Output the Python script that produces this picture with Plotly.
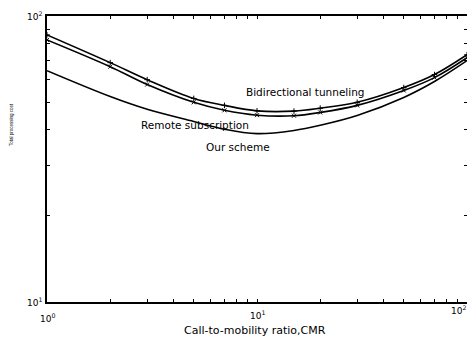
import plotly.graph_objects as go

cmr = [1, 2, 3, 5, 7, 10, 15, 20, 30, 50, 70, 100]
bidirectional = [85.9, 68.7, 59.9, 51.5, 48.7, 46.6, 46.5, 47.6, 49.9, 56.2, 62.4, 73.2]
remote = [82.5, 66.5, 57.6, 49.9, 46.8, 45.0, 44.8, 46.0, 48.7, 54.9, 60.9, 71.5]
ours = [64.4, 52.3, 47.2, 42.8, 40.2, 38.8, 39.8, 41.5, 44.9, 51.9, 59.0, 69.8]

series_names = ["Bidirectional tunneling", "Remote subscription", "Our scheme"]
x_tick_text = ["10<sup>0</sup>", "10<sup>1</sup>", "10<sup>2</sup>"]
y_tick_text = ["10<sup>1</sup>", "10<sup>2</sup>"]
x_title = "Call-to-mobility ratio,CMR"
y_title = "Total processing cost"

fnt = dict(family="DejaVu Sans, sans-serif", color="black")
fnt2 = dict(family="Liberation Sans, Arial, sans-serif", color="black")

fig = go.Figure()
fig.add_trace(go.Scatter(x=cmr, y=bidirectional, mode="lines+markers", name=series_names[0],
                         line=dict(color="black", width=1.6, shape="spline"),
                         marker=dict(symbol="cross-thin", size=4, line=dict(color="black", width=1))))
fig.add_trace(go.Scatter(x=cmr, y=remote, mode="lines+markers", name=series_names[1],
                         line=dict(color="black", width=1.6, shape="spline"),
                         marker=dict(symbol="x-thin", size=4, line=dict(color="black", width=1))))
fig.add_trace(go.Scatter(x=cmr, y=ours, mode="lines", name=series_names[2],
                         line=dict(color="black", width=1.6, shape="spline")))

# curve labels (data coordinates, log10 values)
fig.add_annotation(x=1.229, y=1.733, xref="x", yref="y", text=series_names[0], showarrow=False,
                   font=dict(size=10.5, **fnt))
fig.add_annotation(x=0.705, y=1.618, xref="x", yref="y", text=series_names[1], showarrow=False,
                   font=dict(size=10.5, **fnt))
fig.add_annotation(x=0.910, y=1.542, xref="x", yref="y", text=series_names[2], showarrow=False,
                   font=dict(size=10.5, **fnt))

# axis titles
fig.add_annotation(x=-0.085, y=0.62, xref="paper", yref="paper", text=y_title, showarrow=False,
                   textangle=-90, xanchor="center", yanchor="middle", font=dict(size=4.5, **fnt2))
fig.add_annotation(x=0.495, y=-0.101, xref="paper", yref="paper", text=x_title, showarrow=False,
                   xanchor="center", yanchor="middle", font=dict(size=11, **fnt))

# tick labels
fig.add_annotation(x=0, y=-0.028, xref="paper", yref="paper", text=x_tick_text[0], showarrow=False,
                   xanchor="center", yanchor="top", font=dict(size=9, **fnt))
fig.add_annotation(x=0.502, y=-0.017, xref="paper", yref="paper", text=x_tick_text[1], showarrow=False,
                   xanchor="center", yanchor="top", font=dict(size=9, **fnt))
fig.add_annotation(x=1.003, y=0.0, xref="paper", yref="paper", text=x_tick_text[2], showarrow=False,
                   xanchor="right", yanchor="top", font=dict(size=9, **fnt))
fig.add_annotation(x=-0.008, y=0, xref="paper", yref="paper", text=y_tick_text[0], showarrow=False,
                   xanchor="right", yanchor="middle", font=dict(size=9, **fnt))
fig.add_annotation(x=-0.008, y=1, xref="paper", yref="paper", text=y_tick_text[1], showarrow=False,
                   xanchor="right", yanchor="middle", font=dict(size=9, **fnt))

# page body has an 8px margin: shrink the figure so the plot area lands where the reference's is
fig.update_layout(
    width=467, height=333,
    margin=dict(l=39, r=8, t=6, b=39),
    paper_bgcolor="white", plot_bgcolor="white",
    showlegend=False,
    font=dict(size=10, **fnt),
)
fig.update_xaxes(type="log", range=[0, 2], dtick="D1", showticklabels=False,
                 ticks="inside", ticklen=3, tickcolor="black", showline=True, linecolor="black",
                 linewidth=1.5, mirror="allticks", showgrid=False, zeroline=False)
fig.update_yaxes(type="log", range=[1, 2], dtick="D1", showticklabels=False,
                 ticks="inside", ticklen=3, tickcolor="black", showline=True, linecolor="black",
                 linewidth=1.5, mirror="allticks", showgrid=False, zeroline=False)
fig.write_html("out.html")
